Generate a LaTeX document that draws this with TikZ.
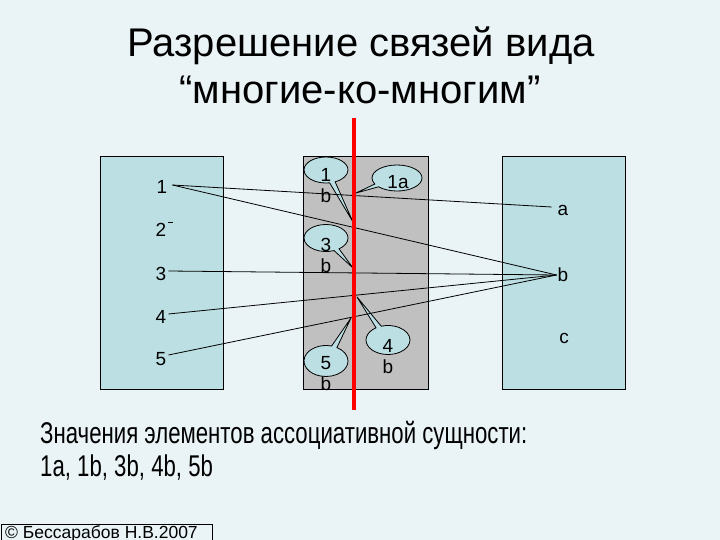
\documentclass[tikz,border=0pt]{standalone}
\usepackage{fontspec}
\setmainfont{Liberation Sans}
\newfontfamily\narrowfont{Liberation Sans}[FakeStretch=0.74]
\usepackage{tikz}
\usetikzlibrary{shapes.callouts}
\definecolor{slidebg}{HTML}{EAF4F7}
\definecolor{entcyan}{HTML}{BCDFE4}
\definecolor{assocgray}{HTML}{C0C0C0}

\begin{document}
\begin{tikzpicture}[x=1pt, y=-1pt,
    ent/.style={draw, line width=0.8pt, fill=entcyan},
    assoc/.style={draw, line width=0.8pt, fill=assocgray},
    lbl/.style={font=\fontsize{19}{21}\selectfont, inner sep=1pt},
    blbl/.style={lbl, align=center, inner sep=0pt},
    bubble/.style={ellipse callout, draw, line width=0.8pt, fill=entcyan,
                   inner sep=0pt, minimum width=44pt, minimum height=26pt},
    lnk/.style={line width=0.8pt},
    cut/.style={draw=red, line width=4pt},
    ttl/.style={font=\fontsize{40}{46}\selectfont, anchor=base, inner sep=0pt},
    note/.style={font=\narrowfont\fontsize{30}{33}\selectfont, anchor=base west, inner sep=0pt}
  ]
  \useasboundingbox (0,0) rectangle (720,540);
  \fill[slidebg] (0,0) rectangle (720,540);

  \node[ttl] (title1) at (361,57)  {Разрешение связей вида};
  \node[ttl] (title2) at (360,104) {“многие-ко-многим”};

  % the two entities and the associative one between them
  \draw[ent]   (100,156) rectangle (223,389);
  \draw[assoc] (303,156) rectangle (428,389);
  \draw[ent]   (502,156) rectangle (625,389);

  \node[lbl] (l1) at (162,187) {1};
  \node[lbl] (l2) at (161,230) {2};
  \node[lbl] (l3) at (161,274) {3};
  \node[lbl] (l4) at (161,317) {4};
  \node[lbl] (l5) at (161,359) {5};

  \node[lbl] (ra) at (563,210) {a};
  \node[lbl] (rb) at (563,275) {b};
  \node[lbl] (rc) at (564,338) {c};

  % callouts naming the pairs
  \coordinate (tip1b) at (353,222);
  \coordinate (tip1a) at (356,193);
  \coordinate (tip3b) at (353,268);
  \coordinate (tip4b) at (357,297);
  \coordinate (tip5b) at (351,318);
  \node[bubble, callout absolute pointer=(tip1b)] (c1b) at (326,170) {};
  \node[bubble, minimum width=50pt, callout absolute pointer=(tip1a)] (c1a) at (397,178) {};
  \node[bubble, minimum height=27pt, callout absolute pointer=(tip3b)] (c3b) at (326,238) {};
  \node[bubble, minimum height=29pt, callout absolute pointer=(tip4b)] (c4b) at (388,340) {};
  \node[bubble, minimum height=31pt, callout absolute pointer=(tip5b)] (c5b) at (326,361) {};
  \node[blbl] (t1b) at (326,186) {1\\b};
  \node[blbl] (t1a) at (398,182) {1a};
  \node[blbl] (t3b) at (326,255) {3\\b};
  \node[blbl] (t4b) at (388,357) {4\\b};
  \node[blbl] (t5b) at (326,374) {5\\b};

  \draw[lnk] ([xshift=4pt,yshift=2pt]l1.east) -- ([xshift=-5pt,yshift=3pt]ra.west);
  \draw[lnk] ([xshift=4pt,yshift=2pt]l1.east) -- (rb.west);
  \draw[lnk] ([xshift=1pt]l2.north east) -- ++(5,0);
  \draw[lnk] ([xshift=1pt,yshift=3pt]l3.east) -- (rb.west);
  \draw[lnk] ([xshift=1pt,yshift=3pt]l4.east) -- (rb.west);
  \draw[lnk] ([xshift=1pt,yshift=4pt]l5.east) -- (rb.west);

  \coordinate (cutT) at (354,118);
  \coordinate (cutB) at (354,410);
  \draw[cut] (cutT) -- (cutB);

  \node[note] (sum1) at (40,443) {Значения элементов ассоциативной сущности:};
  \node[note] (sum2) at (40,476) {1a, 1b, 3b, 4b, 5b};

  \draw[line width=0.8pt] (1,543) -- (1,524) -- (212,524) -- (212,543);
  \node[font=\fontsize{17.5}{20}\selectfont, anchor=base west, inner sep=0pt] (copy) at (5,538)
    {© Бессарабов Н.В.2007};
\end{tikzpicture}
\end{document}
